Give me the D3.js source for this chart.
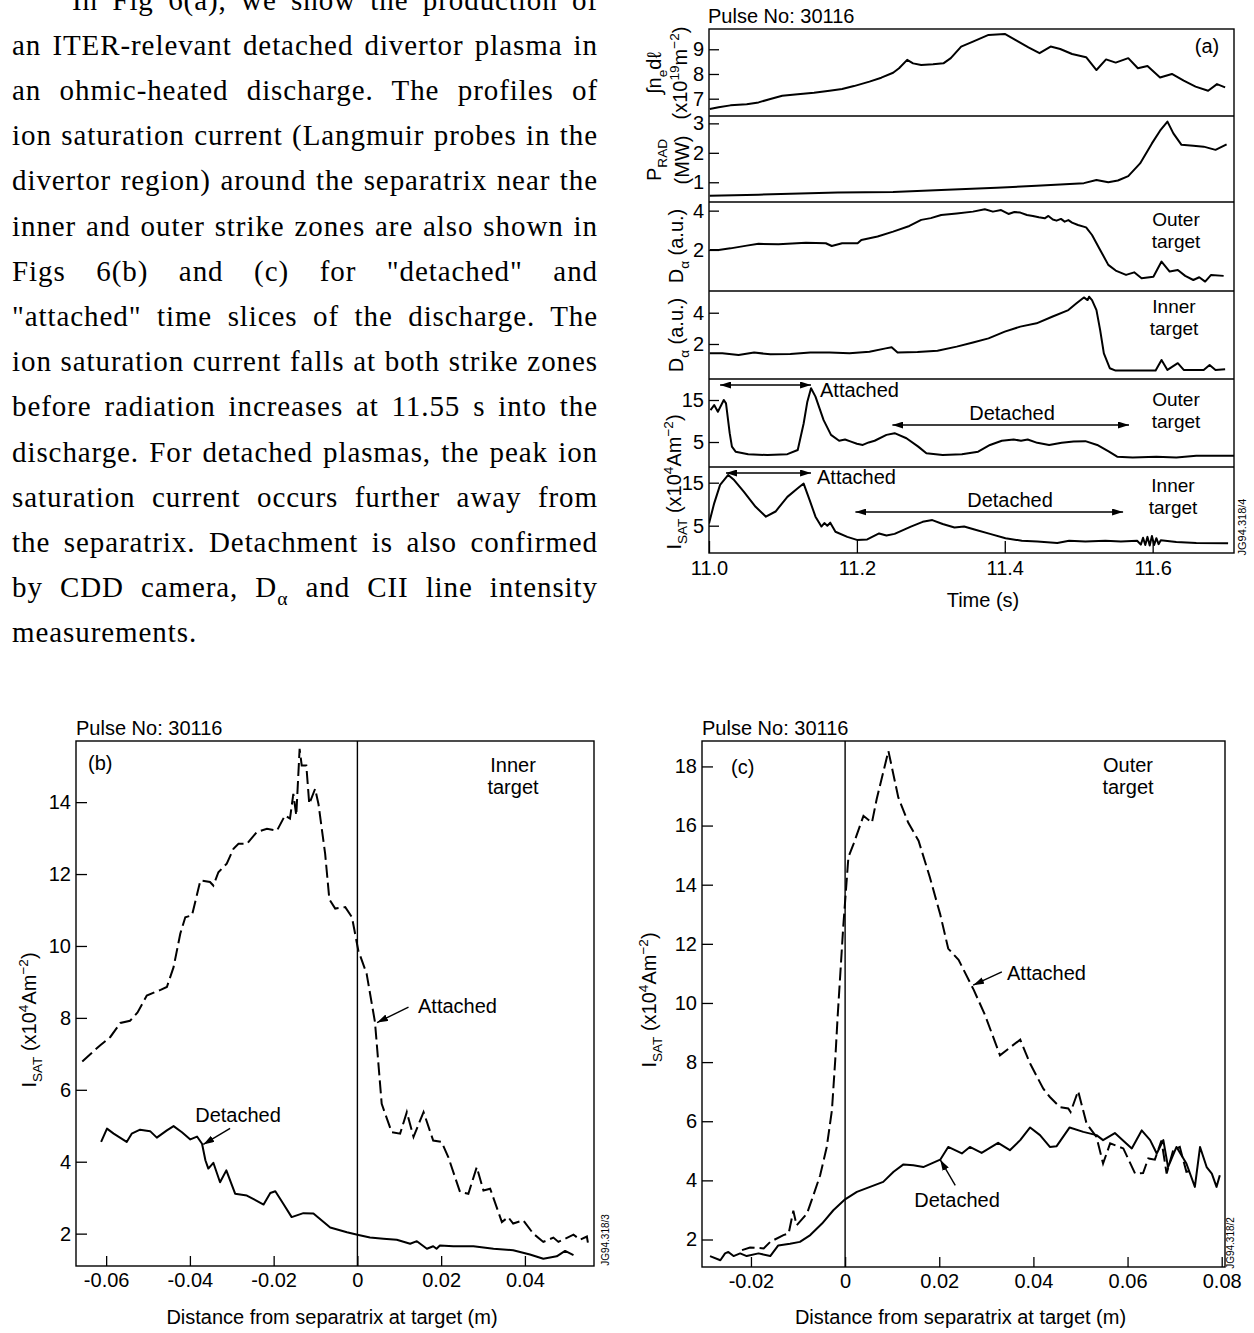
<!DOCTYPE html>
<html>
<head>
<meta charset="utf-8">
<script src="https://cdn.jsdelivr.net/npm/d3@7"></script>
<style>
  body { margin: 0; background: #fff; }
  svg { display: block; }
</style>
</head>
<body>
<svg id="fig" width="1254" height="1333"></svg>
<script>
// ---------- Text column ----------
const paragraphLines = [
  "In Fig 6(a), we show the production of",
  "an ITER-relevant detached divertor plasma in",
  "an ohmic-heated discharge. The profiles of",
  "ion saturation current (Langmuir probes in the",
  "divertor region) around the separatrix near the",
  "inner and outer strike zones are also shown in",
  "Figs 6(b) and (c) for \"detached\" and",
  "\"attached\" time slices of the discharge. The",
  "ion saturation current falls at both strike zones",
  "before radiation increases at 11.55 s into the",
  "discharge. For detached plasmas, the peak ion",
  "saturation current occurs further away from",
  "the separatrix. Detachment is also confirmed",
  "by CDD camera, D\u03b1 and CII line intensity",
  "measurements."
];

// ---------- Panel (a): time traces, pulse 30116 ----------
const timeTicks = [11.0, 11.2, 11.4, 11.6];

// line-integrated density (x10^19 m^-2)
const neLine = [[11.001,6.58],[11.013,6.65],[11.029,6.73],[11.051,6.78],[11.067,6.85],[11.083,6.99],[11.099,7.12],[11.120,7.18],[11.142,7.24],[11.163,7.32],[11.180,7.39],[11.196,7.51],[11.217,7.69],[11.233,7.85],[11.249,8.05],[11.257,8.23],[11.268,8.57],[11.276,8.43],[11.287,8.36],[11.303,8.39],[11.317,8.43],[11.327,8.64],[11.341,9.11],[11.357,9.31],[11.378,9.58],[11.400,9.62],[11.416,9.35],[11.432,9.08],[11.447,8.84],[11.462,9.11],[11.475,9.01],[11.491,8.81],[11.510,8.68],[11.524,8.16],[11.537,8.59],[11.550,8.46],[11.567,8.64],[11.580,8.23],[11.593,8.32],[11.610,7.86],[11.626,8.0],[11.642,7.73],[11.658,7.49],[11.675,7.32],[11.687,7.59],[11.698,7.46]];
const neTicks = [7, 8, 9];

// radiated power (MW)
const pradLine = [[11.001,0.54],[11.067,0.58],[11.174,0.65],[11.249,0.67],[11.314,0.74],[11.389,0.81],[11.443,0.88],[11.507,0.97],[11.524,1.08],[11.540,1.0],[11.553,1.06],[11.567,1.21],[11.583,1.64],[11.599,2.32],[11.610,2.75],[11.620,3.06],[11.628,2.66],[11.639,2.27],[11.655,2.24],[11.669,2.21],[11.685,2.10],[11.700,2.29]];
const pradTicks = [1, 2, 3];

// D-alpha, outer target (a.u.)
const daOuter = [[11.001,2.0],[11.013,2.0],[11.029,2.08],[11.051,2.22],[11.067,2.31],[11.094,2.29],[11.131,2.37],[11.158,2.34],[11.166,2.20],[11.180,2.34],[11.201,2.34],[11.206,2.51],[11.228,2.68],[11.249,2.93],[11.271,3.22],[11.287,3.53],[11.300,3.62],[11.314,3.78],[11.335,3.86],[11.357,3.95],[11.373,4.07],[11.384,3.95],[11.395,4.03],[11.405,3.83],[11.413,3.93],[11.421,3.90],[11.430,3.78],[11.438,3.73],[11.446,3.66],[11.454,3.61],[11.459,3.73],[11.465,3.55],[11.470,3.49],[11.476,3.58],[11.481,3.44],[11.486,3.52],[11.491,3.39],[11.499,3.27],[11.510,3.15],[11.518,2.76],[11.529,2.0],[11.540,1.24],[11.550,0.95],[11.564,0.73],[11.575,0.86],[11.585,0.56],[11.601,0.64],[11.612,1.41],[11.623,0.90],[11.634,0.98],[11.644,0.68],[11.655,0.47],[11.663,0.61],[11.671,0.39],[11.679,0.73],[11.696,0.68]];
const daTicks = [2, 4];

// D-alpha, inner target (a.u.)
const daInner = [[11.001,1.40],[11.018,1.40],[11.040,1.30],[11.061,1.45],[11.083,1.34],[11.110,1.36],[11.137,1.45],[11.163,1.45],[11.190,1.40],[11.217,1.51],[11.239,1.72],[11.247,1.79],[11.255,1.45],[11.282,1.49],[11.309,1.57],[11.335,1.83],[11.357,2.09],[11.378,2.36],[11.400,2.79],[11.421,3.11],[11.443,3.32],[11.464,3.74],[11.486,4.17],[11.497,4.60],[11.507,4.98],[11.512,4.81],[11.514,5.02],[11.518,4.81],[11.524,4.17],[11.529,2.89],[11.534,1.40],[11.542,0.45],[11.550,0.30],[11.577,0.30],[11.604,0.30],[11.612,0.98],[11.620,0.34],[11.634,0.77],[11.642,0.34],[11.669,0.34],[11.677,0.66],[11.685,0.34],[11.698,0.38]];

// ion saturation current, outer target (x10^4 A m^-2)
const isatOuterT = [[11.002,12.6],[11.007,13.8],[11.012,12.2],[11.020,15.0],[11.023,14.2],[11.028,7.1],[11.031,3.9],[11.036,2.7],[11.053,2.1],[11.079,1.9],[11.106,2.1],[11.120,3.1],[11.128,9.4],[11.133,14.6],[11.138,17.8],[11.144,15.8],[11.155,10.2],[11.165,6.7],[11.176,5.3],[11.184,5.6],[11.192,5.1],[11.200,4.6],[11.208,4.3],[11.216,4.9],[11.224,5.3],[11.240,6.7],[11.251,7.1],[11.267,5.9],[11.283,3.9],[11.294,2.3],[11.316,1.9],[11.342,2.1],[11.364,2.7],[11.380,4.3],[11.396,5.3],[11.412,5.6],[11.422,5.3],[11.431,5.6],[11.444,4.8],[11.460,4.3],[11.477,4.8],[11.493,5.1],[11.509,5.2],[11.525,4.3],[11.541,2.7],[11.552,1.5],[11.573,1.3],[11.605,1.5],[11.632,1.3],[11.659,1.7],[11.710,1.7]];

// ion saturation current, inner target (x10^4 A m^-2)
const isatInnerT = [[11.000,5.5],[11.007,10.2],[11.015,14.5],[11.026,16.8],[11.034,15.6],[11.047,12.9],[11.063,9.4],[11.077,7.1],[11.090,8.3],[11.106,11.7],[11.120,13.7],[11.128,14.8],[11.136,11.0],[11.144,7.1],[11.152,4.8],[11.156,5.6],[11.160,5.0],[11.164,5.7],[11.171,3.6],[11.187,2.4],[11.200,1.7],[11.214,1.8],[11.222,2.5],[11.230,3.2],[11.240,2.7],[11.251,3.1],[11.273,4.8],[11.289,5.9],[11.302,6.3],[11.316,5.4],[11.332,4.6],[11.345,4.8],[11.359,4.1],[11.380,3.1],[11.401,2.1],[11.423,1.5],[11.444,1.3],[11.471,1.0],[11.487,1.5],[11.509,1.3],[11.536,1.5],[11.557,1.3],[11.579,1.5],[11.584,0.6],[11.587,2.2],[11.590,0.5],[11.593,2.4],[11.596,0.4],[11.599,2.6],[11.602,0.5],[11.605,2.1],[11.608,0.7],[11.611,1.6],[11.632,1.2],[11.659,1.0],[11.702,0.9]];
const isatTicks = [5, 15];

// attached / detached time windows marked on the I_sat traces
const windowsOuter = [{label: "Attached", t0: 11.015, t1: 11.138}, {label: "Detached", t0: 11.248, t1: 11.568}];
const windowsInner = [{label: "Attached", t0: 11.023, t1: 11.138}, {label: "Detached", t0: 11.198, t1: 11.560}];

// ---------- Panel (b): inner target profiles ----------
const distTicksB = [-0.06, -0.04, -0.02, 0, 0.02, 0.04];
const isatTicksB = [2, 4, 6, 8, 10, 12, 14];
const innerAttached = [[-0.0657,6.79],[-0.0614,7.24],[-0.0590,7.47],[-0.0566,7.86],[-0.0543,7.92],[-0.0525,8.15],[-0.0503,8.62],[-0.0470,8.78],[-0.0455,8.86],[-0.0439,9.41],[-0.0423,10.34],[-0.0411,10.80],[-0.0395,10.85],[-0.0375,11.82],[-0.0352,11.78],[-0.0344,11.68],[-0.0332,12.05],[-0.0312,12.29],[-0.0296,12.70],[-0.0284,12.84],[-0.0264,12.84],[-0.0240,13.17],[-0.0216,13.26],[-0.0192,13.21],[-0.0173,13.63],[-0.0161,13.54],[-0.0153,14.23],[-0.0146,13.63],[-0.0138,15.48],[-0.0133,15.02],[-0.0122,15.02],[-0.0115,13.95],[-0.0101,14.37],[-0.0093,13.95],[-0.0077,12.56],[-0.0067,11.30],[-0.0053,11.04],[-0.0029,11.08],[-0.0013,10.80],[0.0002,9.88],[0.0022,9.23],[0.0042,7.88],[0.0058,5.61],[0.0082,4.82],[0.0102,4.78],[0.0118,5.38],[0.0134,4.69],[0.0158,5.38],[0.0181,4.59],[0.0201,4.55],[0.0217,4.13],[0.0245,3.16],[0.0265,3.11],[0.0285,3.85],[0.0301,3.20],[0.0317,3.25],[0.0345,2.32],[0.0360,2.46],[0.0372,2.28],[0.0396,2.37],[0.0420,2.00],[0.0444,1.77],[0.0468,1.89],[0.0480,1.77],[0.0516,1.97],[0.0532,1.83],[0.0548,1.92],[0.0552,1.63]];
const innerDetached = [[-0.0612,4.55],[-0.0598,4.92],[-0.0582,4.78],[-0.0551,4.55],[-0.0539,4.78],[-0.0519,4.89],[-0.0495,4.85],[-0.0479,4.67],[-0.0455,4.87],[-0.0439,4.99],[-0.0419,4.82],[-0.0399,4.62],[-0.0383,4.70],[-0.0371,4.50],[-0.0363,4.04],[-0.0356,3.81],[-0.0344,3.97],[-0.0328,3.43],[-0.0313,3.76],[-0.0292,3.11],[-0.0264,3.06],[-0.0224,2.81],[-0.0208,3.13],[-0.0196,3.18],[-0.0177,2.83],[-0.0157,2.46],[-0.0129,2.57],[-0.0105,2.56],[-0.0065,2.17],[-0.0025,2.04],[0,1.97],[0.0030,1.89],[0.0062,1.86],[0.0094,1.83],[0.0126,1.72],[0.0142,1.79],[0.0166,1.58],[0.0181,1.65],[0.0189,1.58],[0.0197,1.67],[0.0229,1.65],[0.0277,1.65],[0.0325,1.58],[0.0372,1.54],[0.0412,1.42],[0.0444,1.30],[0.0476,1.37],[0.0496,1.52],[0.0516,1.40]];

// ---------- Panel (c): outer target profiles ----------
const distTicksC = [-0.02, 0, 0.02, 0.04, 0.06, 0.08];
const isatTicksC = [2, 4, 6, 8, 10, 12, 14, 16, 18];
const outerAttached = [[-0.0219,1.64],[-0.0202,1.73],[-0.0173,1.70],[-0.0159,1.92],[-0.0131,2.15],[-0.0120,2.20],[-0.0110,2.97],[-0.0103,2.48],[-0.0081,2.88],[-0.0071,3.33],[-0.0053,4.17],[-0.0039,5.13],[-0.0028,6.37],[-0.0021,8.06],[-0.0016,9.50],[-0.0004,12.57],[0.0007,14.93],[0.0018,15.38],[0.0039,16.33],[0.0057,16.10],[0.0067,16.89],[0.0092,18.52],[0.0113,16.95],[0.0134,16.10],[0.0156,15.49],[0.0180,14.25],[0.0202,13.00],[0.0219,11.84],[0.0241,11.46],[0.0273,10.45],[0.0297,9.60],[0.0329,8.23],[0.0372,8.76],[0.0393,7.95],[0.0421,7.10],[0.0435,6.82],[0.0456,6.48],[0.0474,6.43],[0.0479,6.31],[0.0495,7.02],[0.0513,5.92],[0.0534,5.47],[0.0548,4.57],[0.0563,5.25],[0.0591,5.08],[0.0616,4.23],[0.0633,4.25],[0.0644,4.74],[0.0658,4.70],[0.0672,5.35],[0.0683,4.23],[0.0697,5.02],[0.0711,5.13],[0.0725,4.29],[0.0739,4.34]];
const outerDetached = [[-0.0287,1.44],[-0.0265,1.30],[-0.0255,1.53],[-0.0248,1.58],[-0.0237,1.44],[-0.0223,1.53],[-0.0209,1.44],[-0.0184,1.53],[-0.0159,1.44],[-0.0142,1.80],[-0.0117,1.86],[-0.0096,1.92],[-0.0074,2.15],[-0.0049,2.54],[-0.0025,2.99],[0,3.36],[0.0025,3.61],[0.0053,3.78],[0.0081,3.95],[0.0103,4.29],[0.0124,4.54],[0.0145,4.51],[0.0166,4.45],[0.0202,4.70],[0.0219,5.13],[0.0248,4.91],[0.0265,5.13],[0.0290,4.93],[0.0325,5.27],[0.0350,5.02],[0.0372,5.36],[0.0393,5.79],[0.0414,5.53],[0.0435,5.13],[0.0449,5.15],[0.0477,5.79],[0.0506,5.64],[0.0534,5.53],[0.0548,5.36],[0.0573,5.60],[0.0609,5.08],[0.0630,5.69],[0.0648,5.36],[0.0662,4.91],[0.0676,5.36],[0.0686,4.45],[0.0704,5.13],[0.0725,4.57],[0.0743,3.78],[0.0754,5.13],[0.0768,4.45],[0.0779,4.23],[0.0789,3.78],[0.0796,4.17]];

// ======================================================================
const svg = d3.select("#fig");
const SANS = "'Liberation Sans', Arial, Helvetica, sans-serif";
const SERIF = "'Liberation Serif', 'Times New Roman', serif";
const INK = "#000";

const defs = svg.append("defs");
defs.append("marker")
  .attr("id", "head").attr("viewBox", "0 0 11 7")
  .attr("refX", 11).attr("refY", 3.5)
  .attr("markerWidth", 11).attr("markerHeight", 7)
  .attr("markerUnits", "userSpaceOnUse")
  .attr("orient", "auto-start-reverse")
  .append("path").attr("d", "M0,0L11,3.5L0,7Z").attr("fill", INK);

// text with sub/superscript pieces: parts = [{t, sub?, sup?}]
function rich(textSel, parts, size) {
  let shift = 0;
  parts.forEach(p => {
    const target = p.sub ? 0.28 * size : p.sup ? -0.42 * size : 0;
    const ts = textSel.append("tspan").text(p.t);
    if (target - shift !== 0) ts.attr("dy", target - shift);
    if (p.sub || p.sup) ts.attr("font-size", size * 0.68);
    shift = target;
  });
  return textSel;
}

// ---------- paragraph (justified) ----------
const PARA_SIZE = 29, PARA_LEFT = 12, PARA_WIDTH = 586, INDENT = 60;
const para = svg.append("g").attr("font-family", SERIF).attr("font-size", PARA_SIZE).attr("fill", INK);
const paraNodes = paragraphLines.map((line, i) => {
  const indent = i === 0 ? INDENT : 0;
  const t = para.append("text").attr("x", PARA_LEFT + indent).attr("y", 9.5 + i * 45.2);
  if (line.includes("D\u03b1")) {
    const [a, b] = line.split("D\u03b1");
    rich(t, [{t: a + "D"}, {t: "\u03b1", sub: true}, {t: b}], PARA_SIZE);
  } else {
    t.text(line);
  }
  return {t, line, width: PARA_WIDTH - indent};
});
// common tracking chosen so the densest line fits, then word spacing fills each line
const justified = paraNodes.slice(0, -1);
let track = d3.min(justified, d => (d.width - d.t.node().getComputedTextLength()) / (d.line.length - 1));
track = Math.max(0, track * 0.9);
para.attr("letter-spacing", track.toFixed(3));
justified.forEach(d => {
  const natural = d.t.node().getComputedTextLength();
  const spaces = (d.line.match(/ /g) || []).length;
  d.t.attr("word-spacing", ((d.width - natural) / spaces).toFixed(2));
});

// ---------- common helpers ----------
function styleAxis(g, size) {
  g.attr("font-family", SANS).attr("font-size", size);
  g.select(".domain").remove();
  g.selectAll(".tick line").attr("stroke", INK).attr("stroke-width", 1.3);
  g.selectAll(".tick text").attr("fill", INK);
}
const fmtDist = d => d === 0 ? "0" : d.toFixed(2);

function arrowLine(g, x1, y1, x2, y2, both) {
  const l = g.append("line").attr("x1", x1).attr("y1", y1).attr("x2", x2).attr("y2", y2)
    .attr("stroke", INK).attr("stroke-width", 1.4).attr("marker-end", "url(#head)");
  if (both) l.attr("marker-start", "url(#head)");
}

function label(g, x, y, str, anchor, size) {
  return g.append("text").attr("x", x).attr("y", y).attr("text-anchor", anchor || "start")
    .attr("font-size", size || 20).attr("fill", INK).text(str);
}
function twoLine(g, x, y1, y2, a, b, size) {
  label(g, x, y1, a, "middle", size);
  label(g, x, y2, b, "middle", size);
}

// ---------- panel (a) ----------
const gA = svg.append("g").attr("font-family", SANS).attr("font-size", 20);
const A = {left: 709, right: 1234, top: 29, bottom: 553};
const xA = d3.scaleLinear().domain([11.0, 11.71]).range([A.left, A.right]);

const strips = [
  {top: 29,  bottom: 116, domain: [6.30, 9.82],  ticks: neTicks,   data: neLine},
  {top: 116, bottom: 202, domain: [0.33, 3.25],  ticks: pradTicks, data: pradLine},
  {top: 202, bottom: 291, domain: [-0.09, 4.44], ticks: daTicks,   data: daOuter},
  {top: 291, bottom: 379, domain: [-0.24, 5.39], ticks: daTicks,   data: daInner},
  {top: 379, bottom: 467, domain: [-0.95, 20],   ticks: isatTicks, data: isatOuterT},
  {top: 467, bottom: 553, domain: [-1.35, 18.65],ticks: isatTicks, data: isatInnerT}
];

strips.forEach((s, i) => {
  const y = d3.scaleLinear().domain(s.domain).range([s.bottom, s.top]);
  const id = "clipA" + i;
  defs.append("clipPath").attr("id", id).append("rect")
    .attr("x", A.left).attr("y", s.top).attr("width", A.right - A.left).attr("height", s.bottom - s.top);
  gA.append("path").datum(s.data)
    .attr("clip-path", `url(#${id})`)
    .attr("fill", "none").attr("stroke", INK).attr("stroke-width", 2).attr("stroke-linejoin", "round")
    .attr("d", d3.line().x(d => xA(d[0])).y(d => y(d[1])));
  const ax = gA.append("g").attr("transform", `translate(${A.left},0)`)
    .call(d3.axisLeft(y).tickValues(s.ticks).tickSize(-10).tickPadding(5).tickFormat(d3.format("d")));
  styleAxis(ax, 20);
  if (i > 0) gA.append("line").attr("x1", A.left).attr("x2", A.right).attr("y1", s.top).attr("y2", s.top)
    .attr("stroke", INK).attr("stroke-width", 1.4);
});
gA.append("rect").attr("x", A.left).attr("y", A.top).attr("width", A.right - A.left).attr("height", A.bottom - A.top)
  .attr("fill", "none").attr("stroke", INK).attr("stroke-width", 1.4);

const axA = gA.append("g").attr("transform", `translate(0,${A.bottom})`)
  .call(d3.axisBottom(xA).tickValues(timeTicks).tickSize(-12).tickPadding(8).tickFormat(d3.format(".1f")));
styleAxis(axA, 20);
label(gA, 983, 607, "Time (s)", "middle");
label(gA, A.left - 1, 23, "Pulse No: 30116");
label(gA, 1207, 53, "(a)", "middle");

// side labels of the six strips
function sideLabel(g, x, y, parts, size) {
  const t = g.append("text").attr("transform", `translate(${x},${y}) rotate(-90)`)
    .attr("text-anchor", "middle").attr("font-size", size || 20).attr("fill", INK);
  rich(t, parts, size || 20);
}
sideLabel(gA, 661, 73, [{t: "\u222Bn"}, {t: "e", sub: true}, {t: "d\u2113"}]);
sideLabel(gA, 687, 73, [{t: "(x10"}, {t: "19", sup: true}, {t: "m"}, {t: "\u22122", sup: true}, {t: ")"}]);
sideLabel(gA, 661, 160, [{t: "P"}, {t: "RAD", sub: true}]);
sideLabel(gA, 689, 160, [{t: "(MW)"}]);
sideLabel(gA, 683, 246, [{t: "D"}, {t: "\u03b1", sub: true}, {t: " (a.u.)"}]);
sideLabel(gA, 683, 335, [{t: "D"}, {t: "\u03b1", sub: true}, {t: " (a.u.)"}]);
sideLabel(gA, 681, 482, [{t: "I"}, {t: "SAT", sub: true}, {t: " (x10"}, {t: "4", sup: true}, {t: "Am"}, {t: "\u22122", sup: true}, {t: ")"}]);

// target names
twoLine(gA, 1176, 226, 248, "Outer", "target", 19);
twoLine(gA, 1174, 313, 335, "Inner", "target", 19);
twoLine(gA, 1176, 406, 428, "Outer", "target", 19);
twoLine(gA, 1173, 492, 514, "Inner", "target", 19);

// attached / detached windows
const yOuterArrows = [385, 425], yInnerArrows = [473, 512];
windowsOuter.forEach((w, k) => arrowLine(gA, xA(w.t0), yOuterArrows[k], xA(w.t1), yOuterArrows[k], true));
windowsInner.forEach((w, k) => arrowLine(gA, xA(w.t0), yInnerArrows[k], xA(w.t1), yInnerArrows[k], true));
label(gA, xA(windowsOuter[0].t1) + 9, 397, windowsOuter[0].label);
label(gA, 1012, 420, windowsOuter[1].label, "middle");
label(gA, xA(windowsInner[0].t1) + 6, 484, windowsInner[0].label);
label(gA, 1010, 507, windowsInner[1].label, "middle");
gA.append("text").attr("transform", "translate(1246,527) rotate(-90)").attr("text-anchor", "middle")
  .attr("font-size", 11).attr("fill", INK).text("JG94.318/4");

// ---------- profile panels (b) and (c) ----------
function profilePanel(cfg) {
  const g = svg.append("g").attr("font-family", SANS).attr("font-size", 20);
  const x = d3.scaleLinear().domain(cfg.xDomain).range([cfg.left, cfg.right]);
  const y = d3.scaleLinear().domain(cfg.yDomain).range([cfg.bottom, cfg.top]);
  defs.append("clipPath").attr("id", cfg.id).append("rect")
    .attr("x", cfg.left).attr("y", cfg.top).attr("width", cfg.right - cfg.left).attr("height", cfg.bottom - cfg.top);

  // separatrix
  g.append("line").attr("x1", x(0)).attr("x2", x(0)).attr("y1", cfg.top).attr("y2", cfg.bottom)
    .attr("stroke", INK).attr("stroke-width", 1.4);

  const line = d3.line().x(d => x(d[0])).y(d => y(d[1]));
  g.append("path").datum(cfg.attached).attr("clip-path", `url(#${cfg.id})`)
    .attr("fill", "none").attr("stroke", INK).attr("stroke-width", 2).attr("stroke-dasharray", "13,5")
    .attr("d", line);
  g.append("path").datum(cfg.detached).attr("clip-path", `url(#${cfg.id})`)
    .attr("fill", "none").attr("stroke", INK).attr("stroke-width", 2).attr("stroke-linejoin", "round")
    .attr("d", line);

  const ay = g.append("g").attr("transform", `translate(${cfg.left},0)`)
    .call(d3.axisLeft(y).tickValues(cfg.yTicks).tickSize(-11).tickPadding(5).tickFormat(d3.format("d")));
  styleAxis(ay, 20);
  const ax = g.append("g").attr("transform", `translate(0,${cfg.bottom})`)
    .call(d3.axisBottom(x).tickValues(cfg.xTicks).tickSize(-10).tickPadding(7).tickFormat(fmtDist));
  styleAxis(ax, 20);

  g.append("rect").attr("x", cfg.left).attr("y", cfg.top).attr("width", cfg.right - cfg.left)
    .attr("height", cfg.bottom - cfg.top).attr("fill", "none").attr("stroke", INK).attr("stroke-width", 1.4);

  label(g, cfg.left, 735, "Pulse No: 30116");
  label(g, cfg.tag[0], cfg.tag[1], cfg.tag[2]);
  twoLine(g, cfg.target[0], 772, 794, cfg.target[2], "target");
  label(g, (cfg.left + cfg.right) / 2 - 3, 1324, "Distance from separatrix at target (m)", "middle");

  const yl = g.append("text").attr("transform", `translate(${cfg.yLabel[0]},${cfg.yLabel[1]}) rotate(-90)`)
    .attr("text-anchor", "middle").attr("font-size", 20).attr("fill", INK);
  rich(yl, [{t: "I"}, {t: "SAT", sub: true}, {t: " (x10"}, {t: "4", sup: true}, {t: "Am"}, {t: "\u22122", sup: true}, {t: ")"}], 20);

  cfg.notes.forEach(n => {
    label(g, n.text[0], n.text[1], n.label, n.anchor);
    arrowLine(g, x(n.from[0]), y(n.from[1]), x(n.to[0]), y(n.to[1]), false);
  });
  g.append("text").attr("transform", `translate(${cfg.code[0]},${cfg.code[1]}) rotate(-90)`)
    .attr("text-anchor", "middle").attr("font-size", 10).attr("fill", INK).text(cfg.code[2]);
}

profilePanel({
  id: "clipB", left: 76, right: 594, top: 741, bottom: 1266,
  xDomain: [-0.0672, 0.0565], yDomain: [1.1, 15.7],
  xTicks: distTicksB, yTicks: isatTicksB,
  attached: innerAttached, detached: innerDetached,
  tag: [88, 770, "(b)"], target: [513, 0, "Inner"],
  yLabel: [36, 1020],
  code: [609, 1240, "JG94.318/3"],
  notes: [
    {label: "Attached", text: [418, 1013], anchor: "start", from: [0.0122, 8.30], to: [0.0047, 7.87]},
    {label: "Detached", text: [238, 1122], anchor: "middle", from: [-0.0304, 4.93], to: [-0.0368, 4.48]}
  ]
});

profilePanel({
  id: "clipC", left: 702, right: 1225, top: 741, bottom: 1267,
  xDomain: [-0.0304, 0.0807], yDomain: [1.07, 18.86],
  xTicks: distTicksC, yTicks: isatTicksC,
  attached: outerAttached, detached: outerDetached,
  tag: [731, 774, "(c)"], target: [1128, 0, "Outer"],
  yLabel: [656, 1000],
  code: [1234, 1243, "JG94.318/2"],
  notes: [
    {label: "Attached", text: [1007, 980], anchor: "start", from: [0.0333, 11.05], to: [0.0272, 10.60]},
    {label: "Detached", text: [957, 1207], anchor: "middle", from: [0.0234, 3.83], to: [0.0202, 4.70]}
  ]
});
</script>
</body>
</html>
